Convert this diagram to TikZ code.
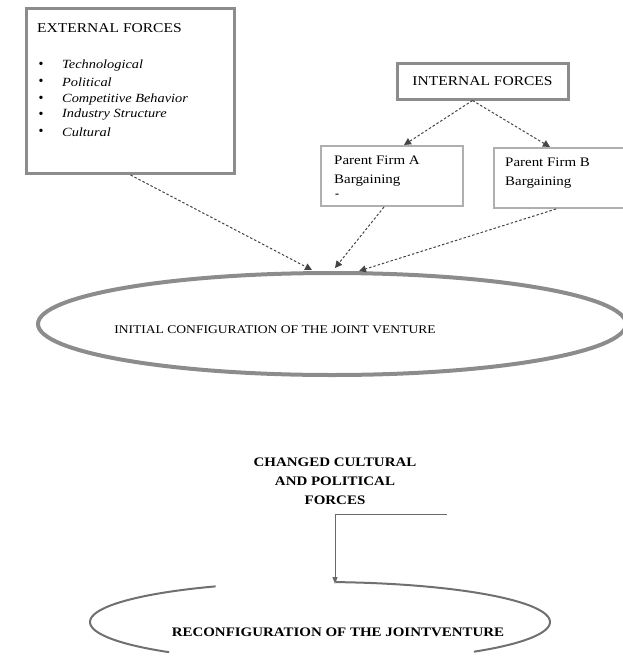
\documentclass[tikz,border=0pt]{standalone}
\usepackage{fontspec}
\setmainfont{Liberation Serif}
\newfontfamily\widefont[FakeStretch=1.15]{Liberation Serif}
\usetikzlibrary{arrows.meta,shapes.geometric,calc}
\definecolor{boxgray}{HTML}{8C8C8C}
\definecolor{linegray}{HTML}{444444}
\tikzset{
  extbox/.style={draw=boxgray, line width=3pt, minimum width=208pt, minimum height=165pt, inner sep=0pt, anchor=north west},
  intbox/.style={draw=boxgray, line width=3pt, minimum width=171pt, minimum height=36pt, inner sep=0pt},
  firmbox/.style={draw=boxgray!70, line width=2pt, minimum height=60pt, inner sep=0pt, anchor=north west},
  lbl/.style={inner sep=0pt, anchor=west, font=\widefont\fontsize{13.5}{16}\selectfont},
  itm/.style={inner sep=0pt, anchor=west, font=\widefont\itshape\fontsize{12.5}{14}\selectfont},
  bul/.style={inner sep=0pt, font=\fontsize{14}{14}\selectfont},
  dasharrow/.style={draw=linegray, line width=1pt, dash pattern=on 2.5pt off 2pt, -{Triangle[length=7pt,width=7pt]}},
  ellip/.style={ellipse, draw=boxgray, line width=4pt, inner sep=0pt},
  caps/.style={inner sep=0pt, font=\widefont\bfseries\fontsize{13}{19}\selectfont, align=center},
  thinline/.style={draw=boxgray!80!black, line width=2pt},
}
\begin{document}
\begin{tikzpicture}[x=1pt,y=-1pt]
\useasboundingbox (0,0) rectangle (623,662);
% external forces box
\node[extbox] (ext) at (25,7) {};
\node[lbl] (exttitle) at (37,28) {EXTERNAL FORCES};
\node[bul] (b1) at (41,65) {•};
\node[bul] (b2) at (41,82) {•};
\node[bul] (b3) at (41,99) {•};
\node[bul] (b4) at (41,115) {•};
\node[bul] (b5) at (41,132) {•};
\node[itm] (i1) at (62,65) {Technological};
\node[itm] (i2) at (62,82) {Political};
\node[itm] (i3) at (62,99) {Competitive Behavior};
\node[itm] (i4) at (62,115) {Industry Structure};
\node[itm] (i5) at (62,132) {Cultural};
% internal forces
\node[intbox, font=\widefont\fontsize{13.5}{16}\selectfont] (int) at (482.5,81) {INTERNAL FORCES};
\node[firmbox, minimum width=142pt] (pa) at (320,145) {};
\node[lbl, anchor=north west, align=left, font=\widefont\fontsize{13}{19}\selectfont] (patext) at (334,156) {Parent Firm A\\Bargaining};
\node[inner sep=0pt, font=\bfseries\fontsize{12}{12}\selectfont] (padash) at (337,196) {-};
\node[firmbox, minimum width=140pt] (pb) at (493,147) {};
\node[lbl, anchor=north west, align=left, font=\widefont\fontsize{13}{19}\selectfont] (pbtext) at (505,158) {Parent Firm B\\Bargaining};
% initial configuration
\node[ellip, minimum width=588pt, minimum height=102pt] (init) at (332,324) {};
\node[inner sep=0pt, font=\widefont\fontsize{11.8}{13}\selectfont] (inittext) at (275,330) {INITIAL CONFIGURATION OF THE JOINT VENTURE};
\coordinate (t1) at (312,270);
\coordinate (t2) at (335,268);
\coordinate (t3) at (359,271);
\draw[dasharrow] (ext.south) -- (t1);
\draw[dasharrow] ($(pa.south)+(-8,0)$) -- (t2);
\draw[dasharrow] ($(pb.south west)+(63,0)$) -- (t3);
\draw[dasharrow] ($(int.south)+(-10,0)$) -- ($(pa.north)+(12,0)$);
\draw[dasharrow] ($(int.south)+(-10,0)$) -- ($(pb.north west)+(57,0)$);
% changed forces
\node[caps] (chg) at (335,481) {CHANGED CULTURAL\\AND POLITICAL\\FORCES};
\coordinate (h1) at (447,514);
\coordinate (h2) at (335,514);
\coordinate (h3) at (335,584);
\draw[draw=linegray!80, line width=1pt, -{Triangle[length=7pt,width=5pt]}] (h1) -- (h2) -- (h3);
% reconfiguration (broken ellipse)
\draw[thinline, domain=117:229, samples=60] plot ({320+230*cos(\x)},{622-40*sin(\x)});
\draw[thinline, domain=-48:86, samples=60] plot ({320+230*cos(\x)},{622-40*sin(\x)});
\node[caps, font=\widefont\bfseries\fontsize{13}{15}\selectfont] (reconf) at (338,632) {RECONFIGURATION OF THE JOINTVENTURE};
\end{tikzpicture}
\end{document}
